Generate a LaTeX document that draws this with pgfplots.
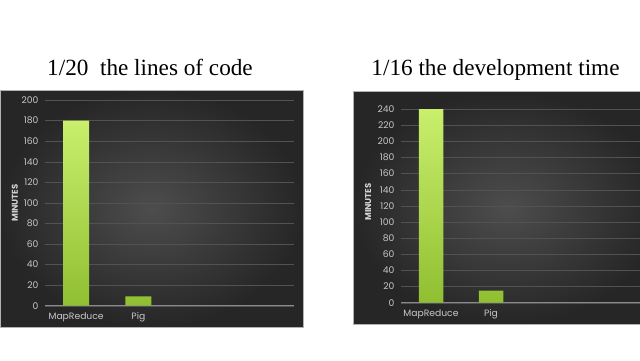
\documentclass[border=0pt]{standalone}
\usepackage{pgfplots}
\pgfplotsset{compat=1.18}
\usepackage{fontspec}
\setmainfont{Liberation Serif}
\newfontfamily\tickfont{Poppins}
\definecolor{bgin}{HTML}{4D4D4D}
\definecolor{bgout}{HTML}{262626}
\definecolor{barTop}{HTML}{C9EF6C}
\definecolor{barBot}{HTML}{90BF32}
\definecolor{gridc}{HTML}{525252}
\definecolor{axisc}{HTML}{8A8A8A}
\definecolor{tickc}{HTML}{C8C8C8}
\pgfplotsset{
  panel/.style={
    scale only axis, anchor=south west,
    xmin=-0.5, xmax=3.5, ymin=0,
    axis x line*=bottom, axis y line*=left,
    y axis line style={draw=none},
    x axis line style={draw=axisc, line width=0.8pt},
    major tick length=0pt,
    ymajorgrids, grid style={gridc, line width=0.4pt},
    xtick={0,1}, xticklabels={MapReduce,Pig},
    tick label style={font=\tickfont\fontsize{9.2}{10}\selectfont, text=tickc},
    yticklabel style={xshift=-3pt},
    xticklabel style={yshift=-3pt},
    /pgf/number format/assume math mode=true,
    ybar,
    clip=false,
  }
}
\begin{document}
\begin{tikzpicture}
\useasboundingbox (0pt,0pt) rectangle (640pt,360pt);
\clip (0pt,0pt) rectangle (640pt,360pt);
\fill[white] (0pt,0pt) rectangle (640pt,360pt);
\shade[inner color=bgin, outer color=bgout] (0pt,33pt) rectangle (303pt,270pt);
\draw[gray!60, line width=0.6pt] (0pt,33pt) rectangle (303pt,270pt);
\shade[inner color=bgin, outer color=bgout] (353pt,36pt) rectangle (660pt,268.3pt);
\draw[gray!60, line width=0.6pt] (353pt,36pt) rectangle (660pt,268.3pt);
\node[font=\fontsize{23.2}{26}\selectfont, anchor=base] at (150pt,285pt) {1/20\ \ the lines of code};
\node[font=\fontsize{23.2}{26}\selectfont, anchor=base] at (495.5pt,285pt) {1/16 the development time};
\begin{axis}[panel, at={(45pt,54.3pt)}, width=249pt, height=205.7pt, ymax=200, ytick={0,20,...,200}, bar width=26pt]
\addplot[draw=none, top color=barTop, bottom color=barBot] coordinates {(0,180) (1,9)};
\end{axis}
\begin{axis}[panel, at={(401pt,57.3pt)}, width=240pt, height=193.7pt, ymax=240, ytick={0,20,...,240}, bar width=24.5pt]
\addplot[draw=none, top color=barTop, bottom color=barBot] coordinates {(0,240) (1,15)};
\end{axis}
\node[rotate=90, font=\tickfont\bfseries\fontsize{8.5}{9}\selectfont, text=tickc!80!white] at (15pt,157pt) {MINUTES};
\node[rotate=90, font=\tickfont\bfseries\fontsize{8.5}{9}\selectfont, text=tickc!80!white] at (368pt,158pt) {MINUTES};
\end{tikzpicture}
\end{document}
